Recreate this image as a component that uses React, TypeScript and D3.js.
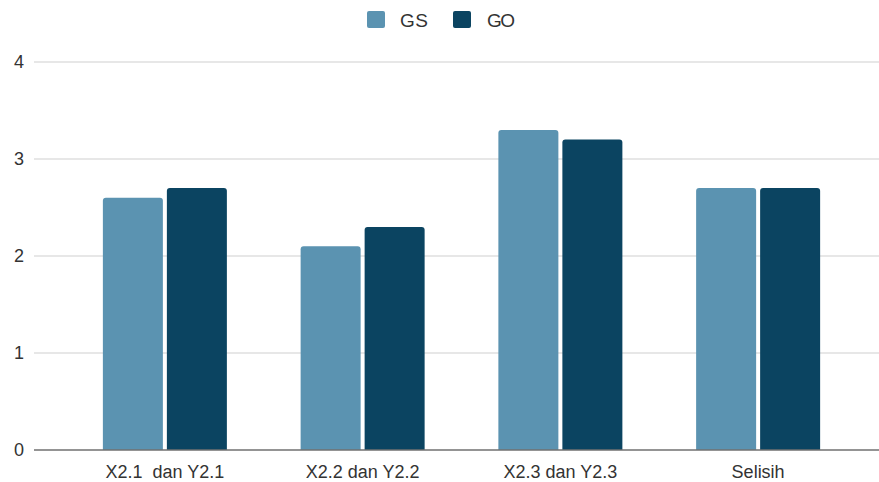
import React from "react";
import * as d3 from "d3";

const categories = ["X2.1  dan Y2.1", "X2.2 dan Y2.2", "X2.3 dan Y2.3", "Selisih"];
const seriesNames = ["GS", "GO"];
const gsValues = [2.6, 2.1, 3.3, 2.7];
const goValues = [2.7, 2.3, 3.2, 2.7];
const yTicks = [0, 1, 2, 3, 4];
const colors = ["#5b93b1", "#0b4461"];

const W = 879;
const H = 482;

function topRoundedRect(x: number, y: number, w: number, h: number, r: number) {
  const rr = Math.min(r, h, w / 2);
  return `M${x},${y + h}V${y + rr}Q${x},${y} ${x + rr},${y}H${x + w - rr}Q${x + w},${y} ${x + w},${y + rr}V${y + h}Z`;
}

export default function App() {
  const y = d3.scaleLinear().domain([0, 4]).range([450, 62]);
  const x0 = d3.scaleBand<string>().domain(categories).range([66, 857]).paddingInner(0).paddingOuter(0);
  const groupW = 124;
  const x1 = d3.scaleBand<string>().domain(seriesNames).range([0, groupW]).paddingInner(0.0625).paddingOuter(0);
  const values = [gsValues, goValues];
  const font = "Arial, 'Liberation Sans', sans-serif";

  return (
    <svg width={W} height={H} style={{ position: "absolute", left: 0, top: 0, background: "#fff" }} fontFamily={font}>
      {/* legend */}
      <g>
        <rect x={367} y={11} width={18} height={17} rx={2} fill={colors[0]} />
        <text x={400} y={27} fontSize={19} fill="#333" textLength={28}>GS</text>
        <rect x={453} y={11} width={18} height={17} rx={2} fill={colors[1]} />
        <text x={487} y={27} fontSize={19} fill="#333" textLength={28}>GO</text>
      </g>
      {/* gridlines */}
      {yTicks.map((t) => (
        <g key={t}>
          {t !== 0 && <line x1={34} x2={879} y1={y(t)} y2={y(t)} stroke="#d0d0d0" strokeWidth={1.2} />}
          <text x={24} y={y(t) + 6} fontSize={18} fill="#333" textAnchor="end">{t}</text>
        </g>
      ))}
      {/* bars */}
      {categories.map((c, i) => {
        const gx = (x0(c) as number) + (x0.bandwidth() - groupW) / 2;
        return (
          <g key={c}>
            {seriesNames.map((s, j) => {
              const v = values[j][i];
              const bx = gx + (x1(s) as number);
              return <path key={s} d={topRoundedRect(bx, y(v), x1.bandwidth(), y(0) - y(v), 3)} fill={colors[j]} />;
            })}
            <text x={(x0(c) as number) + x0.bandwidth() / 2} y={478} fontSize={18} fill="#333" textAnchor="middle" style={{ whiteSpace: "pre" }}>{c}</text>
          </g>
        );
      })}
      <line x1={34} x2={879} y1={y(0)} y2={y(0)} stroke="#707070" strokeWidth={1.5} />
    </svg>
  );
}
